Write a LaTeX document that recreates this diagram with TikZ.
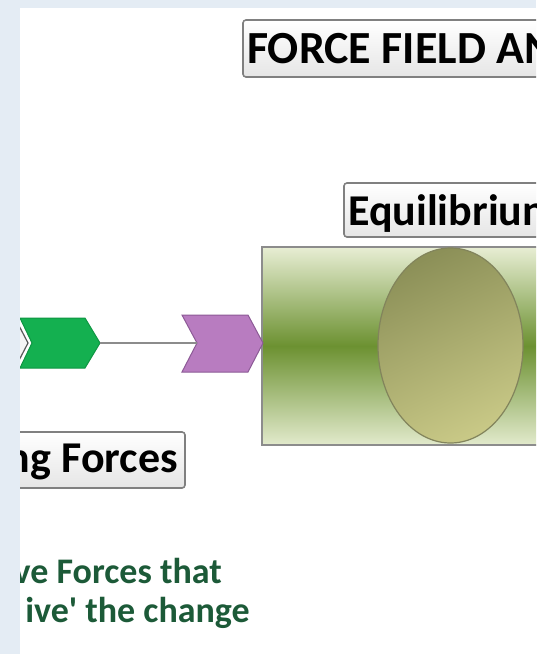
\documentclass[tikz,border=0pt]{standalone}
\usepackage{fontspec}
\setmainfont{Carlito}
\usetikzlibrary{shapes.geometric}
\definecolor{bgblue}{RGB}{228,236,244}
\definecolor{chgreen}{RGB}{20,176,80}
\definecolor{chgreenD}{RGB}{14,150,66}
\definecolor{chpurple}{RGB}{184,124,192}
\definecolor{chpurpleD}{RGB}{140,90,150}
\definecolor{recLight}{RGB}{232,238,212}
\definecolor{recLightB}{RGB}{226,234,204}
\definecolor{recMid}{RGB}{108,145,49}
\definecolor{olDark}{RGB}{140,144,88}
\definecolor{olLight}{RGB}{200,200,134}
\definecolor{olEdge}{RGB}{130,132,92}
\definecolor{txtgreen}{RGB}{28,90,56}
\definecolor{boxedge}{RGB}{128,128,128}
\tikzset{
  labelbox/.style={draw=boxedge, line width=1.6pt, rounded corners=3pt, top color=white, bottom color=black!10},
  labeltext/.style={inner sep=0pt, font=\bfseries, text=black},
  greentext/.style={inner sep=0pt, font=\bfseries\fontsize{36}{36}\selectfont, text=txtgreen},
  conn/.style={draw=black!45, line width=1.5pt}
}
\begin{document}
\begin{tikzpicture}[x=1pt,y=-1pt]
\useasboundingbox (0,0) rectangle (548,654);
\fill[bgblue] (0,0) rectangle (548,654);
\fill[white] (20,8) rectangle (548,654);
\fill[white] (536,0) rectangle (548,8);
\begin{scope}
\clip (20,8) rectangle (536,654);
% title box
\draw[labelbox] (243,20) rectangle (600,77);
\node[labeltext, anchor=base west, font=\bfseries\fontsize{46}{46}\selectfont] (title) at (247,63) {FORCE FIELD AN};
% equilibrium box
\draw[labelbox] (344,183) rectangle (600,237);
\node[labeltext, anchor=base west, font=\bfseries\fontsize{44}{44}\selectfont] (equil) at (348,225) {Equilibriun};
% big rectangle
\shade[top color=recLight, bottom color=recLightB, middle color=recMid] (262,247) rectangle (600,445);
\draw[draw=black!45, line width=2pt] (600,247) -- (262,247) -- (262,445) -- (600,445);
% ellipse
\shade[top color=olDark, bottom color=olLight, shading angle=25] (450.5,345.5) ellipse [x radius=72.5, y radius=97.5];
\draw[olEdge, line width=1.2pt] (450.5,345.5) ellipse [x radius=72.5, y radius=97.5];
% previous chevron (left, cut)
\draw[fill=black!4, draw=black!65, line width=1.2pt] (-40,318) -- (15,318) -- (28,343) -- (15,368) -- (-40,368) -- cycle;
% green chevron
\draw[fill=chgreen, draw=chgreenD, line width=1pt] (20,318) -- (85,318) -- (100,343) -- (85,368) -- (20,368) -- (32,343) -- cycle;
\coordinate (gtip) at (100,343);
% purple chevron
\draw[fill=chpurple, draw=chpurpleD, line width=1pt] (182,315) -- (248,315) -- (263,343) -- (248,372) -- (182,372) -- (197,343) -- cycle;
\coordinate (pnotch) at (197,343);
\draw[conn] (gtip) -- (pnotch);
% driving forces box
\draw[labelbox] (-20,432) rectangle (185,488);
\node[labeltext, anchor=base east, font=\bfseries\fontsize{44}{44}\selectfont] (drive) at (178,472) {ng Forces};
% green description
\node[greentext, anchor=base east] (desc1) at (222,583) {ve Forces that};
\node[greentext, anchor=base east] (desc2) at (250,622) {ive\textquotesingle{} the change};
\end{scope}
\end{tikzpicture}
\end{document}
